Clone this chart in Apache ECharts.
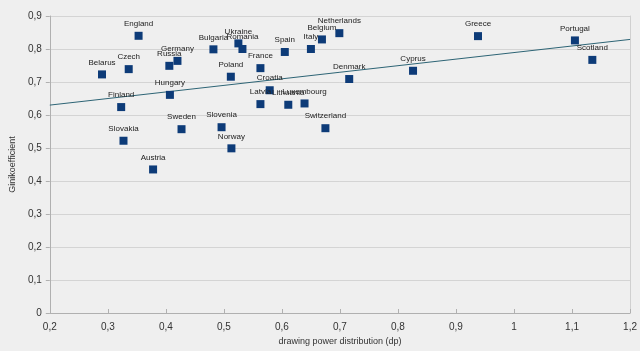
<!DOCTYPE html>
<html>
<head>
<meta charset="utf-8">
<script src="https://cdn.jsdelivr.net/npm/echarts@6/dist/echarts.min.js"></script>
<style>
  html, body { margin: 0; padding: 0; background: #efefef; }
  #chart { width: 640px; height: 351px; }
</style>
</head>
<body>
<div id="chart"></div>
<script>
var countries = ['England', 'Bulgaria', 'Ukraine', 'Romania', 'Germany', 'Russia', 'Czech', 'Belarus',
    'Poland', 'Hungary', 'Finland', 'France', 'Spain', 'Italy', 'Belgium', 'Netherlands', 'Denmark',
    'Croatia', 'Latvia', 'Lithuania', 'Luxembourg', 'Greece', 'Portugal', 'Scotland', 'Cyprus',
    'Slovakia', 'Sweden', 'Slovenia', 'Norway', 'Austria', 'Switzerland'];
var dpValues = [0.353, 0.482, 0.525, 0.532, 0.420, 0.406, 0.336, 0.290,
    0.512, 0.407, 0.323, 0.563, 0.605, 0.650, 0.669, 0.699, 0.716,
    0.579, 0.563, 0.611, 0.639, 0.938, 1.105, 1.135, 0.826,
    0.327, 0.427, 0.496, 0.513, 0.378, 0.675];
var giniValues = [0.840, 0.799, 0.817, 0.800, 0.764, 0.749, 0.739, 0.723,
    0.716, 0.661, 0.624, 0.742, 0.791, 0.800, 0.829, 0.848, 0.709,
    0.675, 0.633, 0.631, 0.635, 0.839, 0.826, 0.767, 0.734,
    0.522, 0.557, 0.563, 0.499, 0.435, 0.560];
// linear trend line end points
var trendX = [0.2, 1.2];
var trendY = [0.630, 0.829];

function comma(v) {
    return (Math.round(v * 10) / 10).toString().replace('.', ',');
}

var points = [];
for (var i = 0; i < countries.length; i++) {
    points.push([dpValues[i], giniValues[i], countries[i]]);
}
var trend = [];
for (var j = 0; j < trendX.length; j++) {
    trend.push([trendX[j], trendY[j]]);
}

var chart = echarts.init(document.getElementById('chart'));
var axisText = { color: '#333', fontSize: 10, fontFamily: 'Liberation Sans, Arial, sans-serif' };
chart.setOption({
    backgroundColor: '#efefef',
    animation: false,
    grid: { left: 48, right: 8, top: 16, bottom: 38 },
    xAxis: {
        type: 'value',
        min: 0.2, max: 1.2, interval: 0.1,
        name: 'drawing power distribution (dp)',
        nameLocation: 'middle',
        nameGap: 24,
        nameTextStyle: { color: '#333', fontSize: 9, fontFamily: 'Liberation Sans, Arial, sans-serif' },
        axisLine: { lineStyle: { color: '#b0b0b0' } },
        axisTick: { show: true, inside: true, length: 4, lineStyle: { color: '#b0b0b0' } },
        axisLabel: Object.assign({ formatter: comma, margin: 9 }, axisText),
        splitLine: { show: false }
    },
    yAxis: [{
        type: 'value',
        min: 0, max: 0.9, interval: 0.1,
        name: 'Ginikoefficient',
        nameLocation: 'middle',
        nameGap: 30,
        nameTextStyle: { color: '#333', fontSize: 9, fontFamily: 'Liberation Sans, Arial, sans-serif' },
        axisLine: { show: true, lineStyle: { color: '#b0b0b0' } },
        axisTick: { show: true, length: 4, lineStyle: { color: '#b0b0b0' } },
        axisLabel: Object.assign({ formatter: comma, margin: 8 }, axisText),
        splitLine: { lineStyle: { color: '#d4d4d4' } }
    }, {
        type: 'value',
        position: 'right',
        min: 0, max: 0.9, interval: 0.1,
        axisLine: { show: true, lineStyle: { color: '#d0d0d0' } },
        axisTick: { show: false },
        axisLabel: { show: false },
        splitLine: { show: false }
    }],
    series: [{
        type: 'line',
        data: trend,
        symbol: 'none',
        lineStyle: { color: '#2d6475', width: 1 },
        z: 1
    }, {
        type: 'scatter',
        data: points,
        symbol: 'rect',
        symbolSize: 8,
        itemStyle: { color: '#0d3b78', opacity: 1 },
        label: {
            show: true,
            position: 'top',
            distance: 4,
            formatter: function (p) { return p.data[2]; },
            color: '#222',
            fontSize: 8,
            fontFamily: 'Liberation Sans, Arial, sans-serif'
        },
        z: 3
    }]
});
</script>
</body>
</html>
